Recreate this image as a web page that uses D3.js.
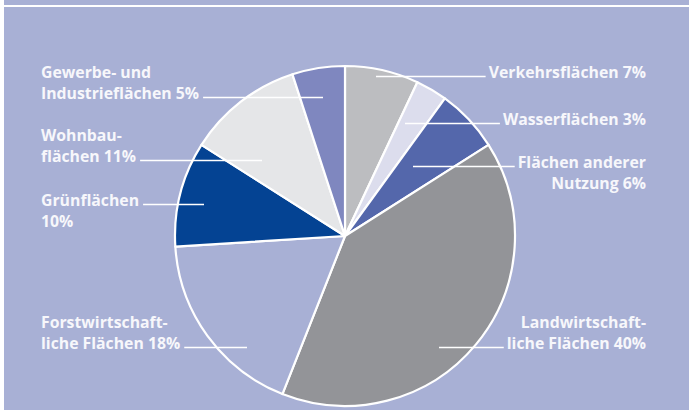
<!DOCTYPE html>
<html>
<head>
<meta charset="utf-8">
<script src="https://cdn.jsdelivr.net/npm/d3@7"></script>
<style>
  body { margin: 0; background: #ffffff; }
  svg { display: block; }
  .lbl { font-family: "Open Sans", sans-serif; font-weight: 700; font-size: 15.8px; fill: #f7f7fb; }
</style>
</head>
<body>
<svg id="chart"></svg>
<script>
// Flächennutzung, Anteile in Prozent (im Uhrzeigersinn ab 12 Uhr)
const categories = ['Verkehrsflächen', 'Wasserflächen', 'Flächen anderer Nutzung', 'Landwirtschaftliche Flächen',
                    'Forstwirtschaftliche Flächen', 'Grünflächen', 'Wohnbauflächen', 'Gewerbe- und Industrieflächen'];
const shares = [7, 3, 6, 40, 18, 10, 11, 5];
const labelLines = [
    ['Verkehrsflächen 7%'],
    ['Wasserflächen 3%'],
    ['Flächen anderer', 'Nutzung 6%'],
    ['Landwirtschaft-', 'liche Flächen 40%'],
    ['Forstwirtschaft-', 'liche Flächen 18%'],
    ['Grünflächen', '10%'],
    ['Wohnbau-', 'flächen 11%'],
    ['Gewerbe- und', 'Industrieflächen 5%']
];

const colors = ['#bcbdc0', '#dcdded', '#5467ab', '#939498', '#a8b0d5', '#044393', '#e5e6e8', '#7f87bf'];

const width = 689, height = 410;
const cx = 345, cy = 236, radius = 170;

// label layout: side, baseline of first row, row that carries the leader, inner end of the leader
const layout = [
    {side: 'right', y: 78,  lineRow: 0, inner: 376},
    {side: 'right', y: 125, lineRow: 0, inner: 405},
    {side: 'right', y: 168, lineRow: 0, inner: 413},
    {side: 'right', y: 328, lineRow: 1, inner: 439},
    {side: 'left',  y: 328, lineRow: 1, inner: 247},
    {side: 'left',  y: 206, lineRow: 0, inner: 204},
    {side: 'left',  y: 141, lineRow: 1, inner: 262},
    {side: 'left',  y: 78,  lineRow: 1, inner: 323}
];
const leftX = 41, rightX = 646, lineGap = 21;

const svg = d3.select('#chart').attr('width', width).attr('height', height);

svg.append('rect')
   .attr('x', 4).attr('y', 0)
   .attr('width', width - 4).attr('height', height)
   .attr('fill', '#a8b0d5');

svg.append('line')
   .attr('x1', 4).attr('x2', width)
   .attr('y1', 6).attr('y2', 6)
   .attr('stroke', '#ffffff').attr('stroke-width', 2);

const pie = d3.pie().sort(null).value(d => d)(shares);
const arc = d3.arc().innerRadius(0).outerRadius(radius);

const g = svg.append('g').attr('transform', `translate(${cx},${cy})`);

g.selectAll('path.slice')
 .data(pie)
 .enter()
 .append('path')
 .attr('class', 'slice')
 .attr('d', arc)
 .attr('fill', (d, i) => colors[i])
 .attr('stroke', '#ffffff')
 .attr('stroke-width', 2.2)
 .attr('stroke-linejoin', 'round');

// Labels and leader lines
const labels = svg.append('g');

labelLines.forEach(function(lines, i) {
    const L = layout[i];
    const ax = L.side === 'right' ? rightX : leftX;
    const txt = labels.append('text')
        .attr('class', 'lbl')
        .attr('text-anchor', L.side === 'right' ? 'end' : 'start')
        .attr('x', ax)
        .attr('y', L.y);
    const spans = [];
    lines.forEach(function(s, j) {
        spans.push(txt.append('tspan')
            .attr('x', ax)
            .attr('dy', j === 0 ? 0 : lineGap)
            .text(s));
    });
    // leader starts just beside the row it belongs to
    const w = spans[L.lineRow].node().getComputedTextLength();
    const rowY = L.y + L.lineRow * lineGap - 1.5;
    const x1 = L.side === 'right' ? rightX - w - 3 : leftX + w + 4;
    labels.append('line')
        .attr('x1', x1).attr('x2', L.inner)
        .attr('y1', rowY).attr('y2', rowY)
        .attr('stroke', '#ffffff')
        .attr('stroke-width', 1.6);
});
</script>
</body>
</html>
